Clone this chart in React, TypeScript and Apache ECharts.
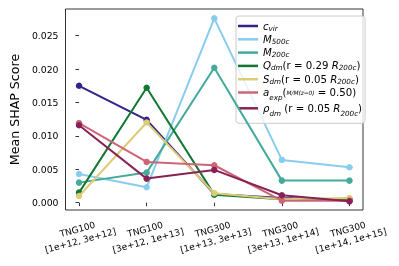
import React, { useEffect, useRef } from "react";
import * as echarts from "echarts";

const categories = [
  "TNG100\n[1e+12, 3e+12]",
  "TNG100\n[3e+12, 1e+13]",
  "TNG300\n[1e+13, 3e+13]",
  "TNG300\n[3e+13, 1e+14]",
  "TNG300\n[1e+14, 1e+15]",
];
const xTicks = [0, 1, 2, 3, 4];
const xLabelsEven = [0, 2, 4];
const xLabelsOdd = [1, 3];
const yTicks = [0, 0.005, 0.01, 0.015, 0.02, 0.025];

const cvir = [0.0175, 0.0124, 0.0013, 0.0007, 0.0004];
const m500 = [0.0043, 0.0023, 0.0276, 0.0064, 0.0053];
const m200 = [0.003, 0.0045, 0.0202, 0.0033, 0.0033];
const qdm = [0.0015, 0.0172, 0.0012, 0.0005, 0.0005];
const sdm = [0.001, 0.012, 0.0014, 0.0005, 0.0007];
const aexp = [0.0119, 0.0061, 0.0056, 0.0003, 0.0003];
const rhodm = [0.0116, 0.0036, 0.0049, 0.0011, 0.0002];

const seriesNames = ["cvir", "M500c", "M200c", "Qdm", "Sdm", "aexp", "rhodm"];
const seriesColors = ["#332288", "#88CCEE", "#44AA99", "#117733", "#DDCC77", "#CC6677", "#882255"];
const seriesValues = [cvir, m500, m200, qdm, sdm, aexp, rhodm];

const legendLabels: Record<string, string> = {
  cvir: "{i|c}{s|vir}",
  M500c: "{i|M}{s|500c}",
  M200c: "{i|M}{s|200c}",
  Qdm: "{i|Q}{s|dm}{n|(r = 0.29 }{i|R}{s|200c}{n|)}",
  Sdm: "{i|S}{s|dm}{n|(r = 0.05 }{i|R}{s|200c}{n|)}",
  aexp: "{ib|a}{s|exp}{nb|(}{f|M/M(z=0)}{nb| = 0.50)}",
  rhodm: "{ic|ρ}{s|dm}{nc| (r = 0.05 }{i|R}{s|200c}{nc|)}",
};

const FONT = "DejaVu Sans";
const LF = 10.2;
const SF = 7.2;

function makeXAxis(labelValues: number[], withTicks: boolean) {
  return {
    type: "value",
    position: "bottom",
    offset: 0,
    min: -0.2,
    max: 4.2,
    splitLine: { show: false },
    axisLine: { show: false },
    axisTick: {
      show: withTicks,
      length: 3.5,
      inside: false,
      lineStyle: { color: "#000", width: 0.8 },
      customValues: xTicks,
    },
    axisLabel: {
      customValues: labelValues,
      showMinLabel: true,
      showMaxLabel: true,
      hideOverlap: false,
      interval: 0,
      formatter: (v: number) => categories[Math.round(v)] ?? "",
      rotate: 15,
      align: "center",
      verticalAlign: "middle",
      margin: 25,
      fontSize: 9,
      lineHeight: 11.5,
      color: "#000",
      fontFamily: FONT,
    },
  };
}

export default function App() {
  const ref = useRef<HTMLDivElement>(null);
  useEffect(() => {
    if (!ref.current) return;
    const chart = echarts.init(ref.current, undefined, { renderer: "svg" });
    const series = seriesNames.map((name, k) => ({
      name,
      type: "line",
      xAxisIndex: 0,
      data: seriesValues[k].map((v, i) => [i, v]),
      symbol: "circle",
      symbolSize: 6.5,
      showSymbol: true,
      color: seriesColors[k],
      lineStyle: { width: 2, color: seriesColors[k] },
      itemStyle: { color: seriesColors[k] },
      z: 2 + k,
    }));
    chart.setOption({
      animation: false,
      textStyle: { fontFamily: FONT },
      grid: {
        left: 59,
        top: 9,
        width: 304,
        height: 201,
        show: true,
        borderColor: "#000",
        borderWidth: 0.8,
        backgroundColor: "transparent",
      },
      xAxis: [makeXAxis(xLabelsEven, true), makeXAxis(xLabelsOdd, false)],
      yAxis: {
        type: "value",
        min: -0.0011,
        max: 0.029,
        name: "Mean SHAP Score",
        nameLocation: "middle",
        nameGap: 34,
        nameTextStyle: { fontSize: 12.6, color: "#000", fontFamily: FONT },
        splitLine: { show: false },
        axisLine: { show: false },
        axisTick: {
          show: true,
          length: 3.5,
          inside: false,
          lineStyle: { color: "#000", width: 0.8 },
          customValues: yTicks,
        },
        axisLabel: {
          customValues: yTicks,
          formatter: (v: number) => v.toFixed(3),
          margin: 7,
          fontSize: 9.3,
          color: "#000",
          fontFamily: FONT,
        },
      },
      legend: {
        orient: "vertical",
        left: 236,
        top: 16,
        padding: [5, 3, 6, 2],
        itemGap: 2.8,
        itemWidth: 20,
        itemHeight: 2.5,
        icon: "rect",
        backgroundColor: "rgba(255,255,255,0.8)",
        borderColor: "#cccccc",
        borderWidth: 1,
        borderRadius: 3,
        data: seriesNames,
        formatter: (name: string) => legendLabels[name] ?? name,
        textStyle: {
          fontFamily: FONT,
          fontSize: LF,
          color: "#000",
          rich: {
            i: { fontStyle: "italic", fontSize: LF, lineHeight: 11, fontFamily: FONT, color: "#000" },
            ib: { fontStyle: "italic", fontSize: LF, lineHeight: 16, fontFamily: FONT, color: "#000" },
            ic: { fontStyle: "italic", fontSize: LF, lineHeight: 18, fontFamily: FONT, color: "#000" },
            s: { fontStyle: "italic", fontSize: SF, lineHeight: 7.5, verticalAlign: "bottom", fontFamily: FONT, color: "#000" },
            n: { fontSize: LF, lineHeight: 11, fontFamily: FONT, color: "#000" },
            nb: { fontSize: LF, lineHeight: 16, fontFamily: FONT, color: "#000" },
            nc: { fontSize: LF, lineHeight: 18, fontFamily: FONT, color: "#000" },
            f: { fontStyle: "italic", fontSize: 5.8, lineHeight: 16, fontFamily: FONT, color: "#000" },
          },
        },
      },
      series,
    });
    return () => chart.dispose();
  }, []);
  return (
    <div
      ref={ref}
      style={{ position: "fixed", left: 0, top: 0, width: 399, height: 266 }}
    />
  );
}
